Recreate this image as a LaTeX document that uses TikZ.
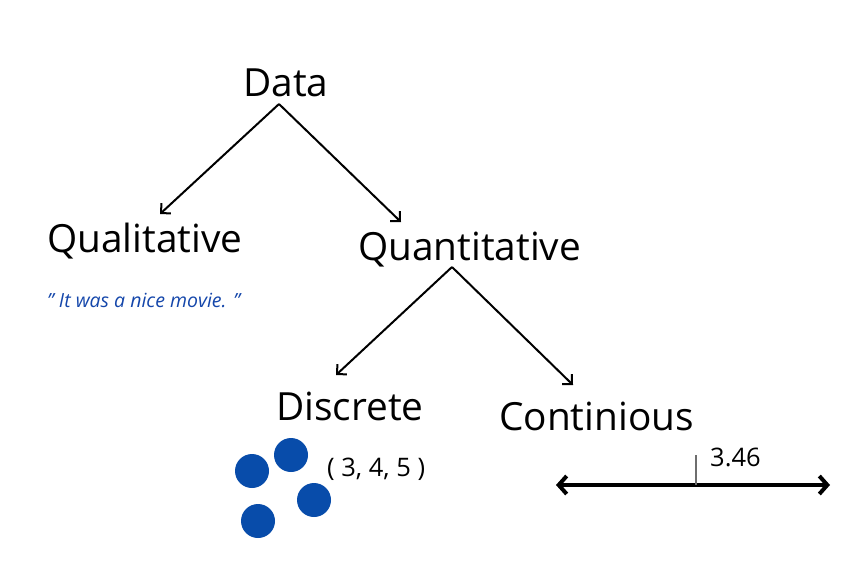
\documentclass[tikz,border=0pt]{standalone}
\usepackage{fontspec}
\setmainfont{Open Sans}
\usetikzlibrary{arrows.meta}
\definecolor{dotblue}{RGB}{8,76,170}
\definecolor{quoteblue}{RGB}{20,70,170}
\definecolor{tickgray}{RGB}{110,110,110}
\begin{document}
\begin{tikzpicture}[x=1pt,y=-1pt,
  big/.style={anchor=base west,inner sep=0pt,font=\fontsize{38.8}{42}\selectfont},
  small/.style={anchor=base west,inner sep=0pt,font=\fontsize{25.5}{28}\selectfont},
  arr/.style={line width=2pt,-{Straight Barb[length=7pt,width=14pt]}},
  dot/.style={circle,fill=dotblue,minimum size=34pt,inner sep=0pt}]
\useasboundingbox (0,0) rectangle (858,568);
\node[big] (data) at (243,96) {Data};
\node[big] (qual) at (47,252) {Qualitative};
\node[big] (quant) at (358,260) {Quantitative};
\node[big] (disc) at (276,420) {Discrete};
\node[big] (cont) at (499,430) {Continious};
\node[anchor=base west,inner sep=0pt,text=quoteblue,font=\fontsize{19.5}{22}\selectfont\itshape] (quote) at (47,307) {\symbol{34} It was a nice movie. \symbol{34}};
\node[small] (tuple) at (327,476) {( 3, 4, 5 )};
\node[small] (val) at (710,466) {3.46};
\node[dot] (d1) at (252,471) {};
\node[dot] (d2) at (291,455) {};
\node[dot] (d3) at (314,500) {};
\node[dot] (d4) at (258,521) {};
\draw[arr] ([shift={(36,8)}]data.base west) -- ([shift={(113,-38)}]qual.base west);
\draw[arr] ([shift={(36,8)}]data.base west) -- ([shift={(43,-38)}]quant.base west);
\draw[arr] ([shift={(94,7)}]quant.base west) -- ([shift={(60,-45)}]disc.base west);
\draw[arr] ([shift={(94,7)}]quant.base west) -- ([shift={(74,-45)}]cont.base west);
\coordinate (nl) at (556,485);
\coordinate (nr) at (830,485);
\draw[line width=4pt,{Straight Barb[length=8pt,width=18pt]}-{Straight Barb[length=8pt,width=18pt]}] (nl) -- (nr);
\coordinate (tk) at (696,455);
\draw[tickgray,line width=1.5pt] (tk) -- (tk |- nl);
\end{tikzpicture}
\end{document}
